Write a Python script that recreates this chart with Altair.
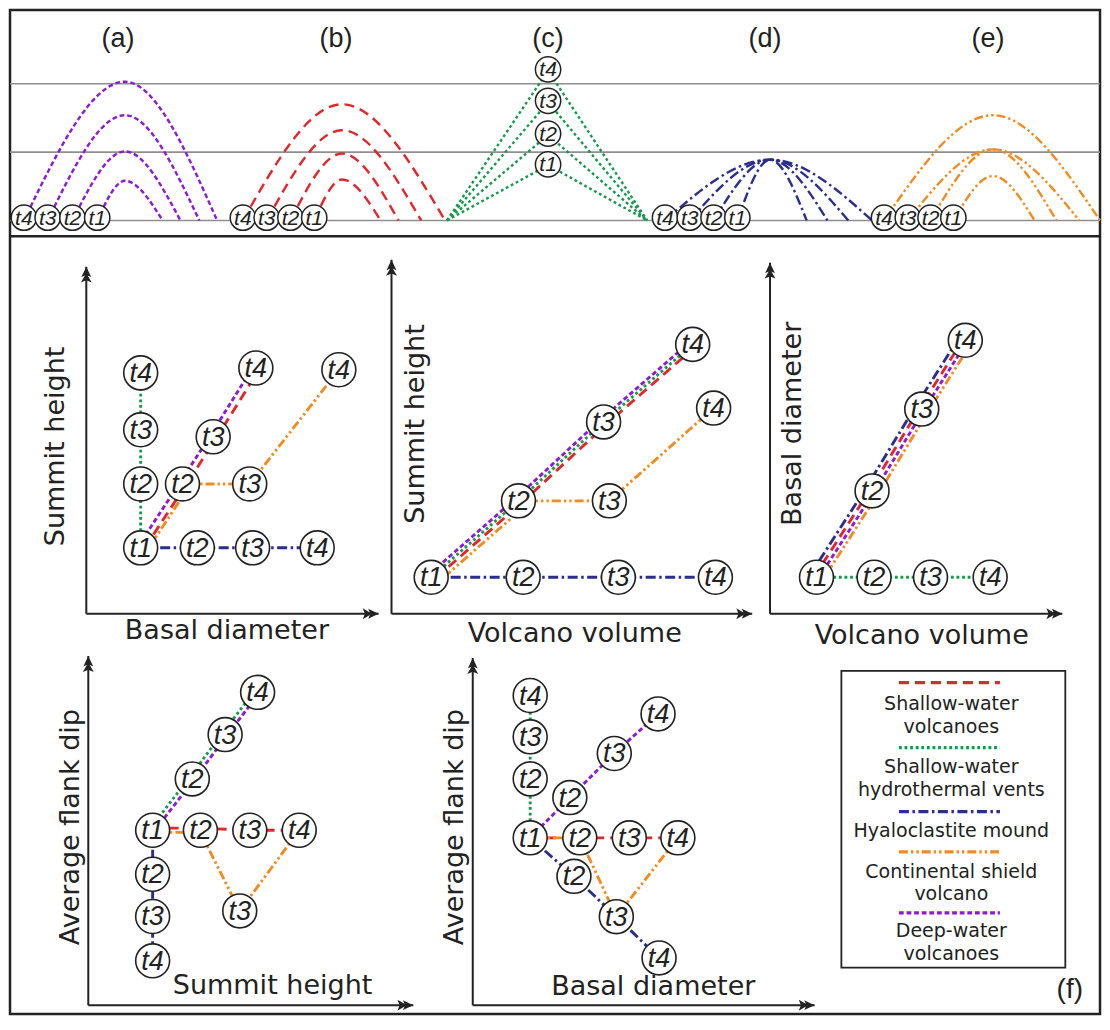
import altair as alt
import pandas as pd

# ============================ DATA ============================
SERIES_KEYS = ["sw", "hv", "hm", "cs", "dw"]
SERIES_NAMES = ["Shallow-water volcanoes", "Shallow-water hydrothermal vents",
                "Hyaloclastite mound", "Continental shield volcano", "Deep-water volcanoes"]

STAGES = ["t4", "t3", "t2", "t1"]

# --- top strip (a)-(e): horizontal distance units, height in levels of the grey guide lines
TOP_LABELS = ["(a)", "(b)", "(c)", "(d)", "(e)"]
TOP_LABEL_X = [11.7, 33.7, 55.1, 77.0, 99.5]
TOP_KEYS = ["dw", "sw", "hv", "hm", "cs"]
TOP_FOOT_L = [[2.2, 4.6, 7.1, 9.6], [24.3, 26.7, 29.1, 31.5], [44.9, 44.9, 44.9, 44.9],
              [66.9, 69.4, 71.8, 74.2], [89.0, 91.4, 93.7, 96.0]]
TOP_APEX_X = [12.4, 34.3, 55.1, 77.5, 100.0]
TOP_APEX_H = [[2.03, 1.54, 1.01, 0.58], [1.70, 1.32, 0.98, 0.60], [2.19, 1.73, 1.25, 0.81],
              [0.89, 0.89, 0.89, 0.89], [1.54, 1.04, 1.04, 0.65]]
TOP_FOOT_R = [[21.7, 19.9, 18.0, 16.2], [44.7, 42.3, 40.0, 38.2], [65.1, 65.1, 65.1, 65.1],
              [87.8, 85.4, 83.3, 81.2], [110.8, 108.7, 106.4, 104.2]]
TOP_CIRCLE_X = [[2.2, 4.6, 7.1, 9.6], [24.3, 26.7, 29.1, 31.5], [55.1, 55.1, 55.1, 55.1],
                [66.9, 69.4, 71.8, 74.2], [89.0, 91.4, 93.7, 96.0]]
TOP_CIRCLE_H = [[0.04] * 4, [0.04] * 4, [2.21, 1.75, 1.27, 0.82], [0.04] * 4, [0.04] * 4]
TOP_LEVELS = [0, 1, 2]
TOP_LABEL_H = 2.66
TOP_DIVIDER_H = -0.23

# --- panel 1: Summit height vs Basal diameter
P1_CIRC_LABEL = ["t1", "t2", "t3", "t4", "t2", "t3", "t4", "t2", "t3", "t4", "t3", "t4"]
P1_CIRC_X = [1.86, 1.86, 1.86, 1.86, 3.80, 5.69, 7.90, 3.29, 4.34, 5.80, 5.59, 8.64]
P1_CIRC_Y = [1.90, 3.74, 5.30, 6.94, 1.90, 1.90, 1.90, 3.74, 5.10, 7.08, 3.74, 7.03]
P1_LINE_KEY = ["hv", "hm", "sw", "dw", "cs"]
P1_LINE_X = [[1.86, 1.86, 1.86, 1.86], [1.86, 3.80, 5.69, 7.90], [2.00, 3.43, 4.48, 5.94],
             [1.74, 3.17, 4.22, 5.68], [2.14, 3.57, 5.59, 8.64]]
P1_LINE_Y = [[1.90, 3.74, 5.30, 6.94], [1.90, 1.90, 1.90, 1.90], [1.90, 3.74, 5.10, 7.08],
             [1.90, 3.74, 5.10, 7.08], [1.90, 3.74, 3.74, 7.03]]
P1_TITLE = ["Summit height", "Basal diameter"]
P1_TITLE_X = [-1.02, 4.81]
P1_TITLE_Y = [4.82, -0.51]

# --- panel 2: Summit height vs Volcano volume
P2_CIRC_LABEL = ["t1", "t2", "t3", "t4", "t2", "t3", "t4", "t3", "t4"]
P2_CIRC_X = [1.10, 3.65, 6.29, 8.98, 3.52, 5.88, 8.35, 6.04, 8.93]
P2_CIRC_Y = [1.03, 1.03, 1.03, 1.03, 3.19, 5.42, 7.61, 3.19, 5.81]
P2_LINE_KEY = ["hm", "sw", "hv", "dw", "cs"]
P2_LINE_X = [[1.10, 3.65, 6.29, 8.98], [1.25, 3.67, 6.03, 8.50], [1.10, 3.52, 5.88, 8.35],
             [0.95, 3.37, 5.73, 8.20], [1.45, 3.87, 6.04, 8.93]]
P2_LINE_Y = [[1.03, 1.03, 1.03, 1.03], [1.03, 3.19, 5.42, 7.61], [1.03, 3.19, 5.42, 7.61],
             [1.03, 3.19, 5.42, 7.61], [1.03, 3.19, 3.19, 5.81]]
P2_TITLE = ["Summit height", "Volcano volume"]
P2_TITLE_X = [0.69, 5.08]
P2_TITLE_Y = [5.36, -0.56]

# --- panel 3: Basal diameter vs Volcano volume
P3_CIRC_LABEL = ["t1", "t2", "t3", "t4", "t2", "t3", "t4"]
P3_CIRC_X = [1.59, 3.56, 5.49, 7.53, 3.49, 5.19, 6.68]
P3_CIRC_Y = [1.04, 1.04, 1.04, 1.04, 3.50, 5.83, 7.79]
P3_LINE_KEY = ["hv", "hm", "sw", "dw", "cs"]
P3_LINE_X = [[1.59, 3.56, 5.49, 7.53], [1.32, 3.22, 4.92, 6.41], [1.50, 3.40, 5.10, 6.59],
             [1.68, 3.58, 5.28, 6.77], [1.86, 3.76, 5.46, 6.95]]
P3_LINE_Y = [[1.04, 1.04, 1.04, 1.04], [1.04, 3.50, 5.83, 7.79], [1.04, 3.50, 5.83, 7.79],
             [1.04, 3.50, 5.83, 7.79], [1.04, 3.50, 5.83, 7.79]]
P3_TITLE = ["Basal diameter", "Volcano volume"]
P3_TITLE_X = [0.78, 5.19]
P3_TITLE_Y = [5.41, -0.64]

# --- panel 4: Average flank dip vs Summit height
P4_CIRC_LABEL = ["t1", "t2", "t3", "t4", "t2", "t3", "t4", "t2", "t3", "t4", "t3"]
P4_CIRC_X = [1.98, 3.20, 4.21, 5.21, 3.45, 4.97, 6.49, 1.98, 1.98, 1.98, 4.66]
P4_CIRC_Y = [5.01, 6.48, 7.75, 8.96, 5.01, 5.01, 5.01, 3.75, 2.54, 1.27, 2.70]
P4_LINE_KEY = ["hv", "dw", "hm", "sw", "cs"]
P4_LINE_X = [[1.86, 3.08, 4.09, 5.09], [2.05, 3.27, 4.28, 5.28], [1.98, 1.98, 1.98, 1.98],
             [1.98, 3.45, 4.97, 6.49], [1.98, 3.45, 4.66, 6.49]]
P4_LINE_Y = [[5.01, 6.48, 7.75, 8.96], [5.01, 6.48, 7.75, 8.96], [5.01, 3.75, 2.54, 1.27],
             [5.07, 5.07, 5.01, 5.01], [4.95, 4.95, 2.70, 5.01]]
P4_TITLE = ["Average flank dip", "Summit height"]
P4_TITLE_X = [-0.52, 5.67]
P4_TITLE_Y = [5.10, 0.56]

# --- panel 5: Average flank dip vs Basal diameter
P5_CIRC_LABEL = ["t1", "t2", "t3", "t4", "t2", "t3", "t4", "t2", "t3", "t4", "t2", "t3", "t4"]
P5_CIRC_X = [1.68, 1.68, 1.68, 1.68, 2.84, 4.14, 5.42, 3.13, 4.58, 6.00, 2.96, 4.20, 5.45]
P5_CIRC_Y = [4.82, 6.52, 7.73, 8.92, 5.98, 7.25, 8.39, 4.82, 4.82, 4.82, 3.71, 2.55, 1.36]
P5_LINE_KEY = ["hv", "dw", "hm", "sw", "cs"]
P5_LINE_X = [[1.68, 1.68, 1.68, 1.68], [1.68, 2.84, 4.14, 5.42], [1.68, 2.96, 4.20, 5.45],
             [1.68, 3.13, 4.58, 6.00], [1.68, 3.13, 4.20, 6.00]]
P5_LINE_Y = [[4.82, 6.52, 7.73, 8.92], [4.82, 5.98, 7.25, 8.39], [4.82, 3.71, 2.55, 1.36],
             [4.82, 4.82, 4.82, 4.82], [4.82, 4.82, 2.55, 4.82]]
P5_TITLE = ["Average flank dip", "Basal diameter"]
P5_TITLE_X = [-0.52, 5.28]
P5_TITLE_Y = [5.13, 0.51]

# --- legend (f): rows counted from the top of the box
LEG_LINE_ROW = [0.0, 3.15, 6.25, 8.2, 11.15]
LEG_TEXT = [["Shallow-water", "volcanoes"], ["Shallow-water", "hydrothermal vents"],
            ["Hyaloclastite mound"], ["Continental shield", "volcano"], ["Deep-water", "volcanoes"]]
LEG_TEXT_ROW = [[1.05, 2.15], [4.1, 5.2], [7.2], [9.15, 10.25], [12.05, 13.15]]
LEG_LINE_X = [2.57, 7.08]
LEG_TEXT_X = 4.91
LEG_BOX = [0, 10, -0.57, 13.8]
PANEL_F_LABEL = "(f)"
PANEL_F_POS = [10.2, 14.9]

# ============================ STYLE / LAYOUT ============================
W, H, PAD = 1090, 1004, 2
INK = "#222222"
SERIES_COLORS = ["#e3262b", "#16994b", "#2a2e8e", "#f28b20", "#8c1ad6"]
SERIES_DASHES = [[10, 6], [2.8, 2.8], [10, 3.5, 2.5, 3.5], [9, 3, 2.4, 3, 2.4, 3], [4.8, 2.8]]
SANS = "DejaVu Sans"
ITAL = "Liberation Sans"
ARROW = "M0,0 L0.45,0.95 L0.12,0.8 L0.5,1.45 L0,1.25 L-0.5,1.45 L-0.12,0.8 L-0.45,0.95 Z"


def X(px):
    return (px - 8) * W / 1100


def Y(py):
    return (py - 6) * H / 1021


PANEL_FRAMES = [(85, 380, 620, 267), (393, 757, 620, 260), (775, 1070, 620, 263),
                (87, 415, 1018, 663), (475, 820, 1018, 665)]

color_scale = alt.Scale(domain=SERIES_KEYS, range=SERIES_COLORS)
dash_scale = alt.Scale(domain=SERIES_KEYS, range=SERIES_DASHES)
COLOR = alt.Color("key:N", scale=color_scale, legend=None)
DASH = alt.StrokeDash("key:N", scale=dash_scale, legend=None)


def lin(dom, rng):
    return alt.Scale(domain=dom, range=rng, nice=False, zero=False)


# ---------------- top strip ----------------
xs_t = lin([0.8, 110.8], [0, W])
ys_t = lin([0, 2], [Y(220), Y(81)])

arc_rows = []
circ_rows = []
for p, key in enumerate(TOP_KEYS):
    for j, st in enumerate(STAGES):
        pts = [(TOP_FOOT_L[p][j], 0.0), (TOP_APEX_X[p], TOP_APEX_H[p][j]), (TOP_FOOT_R[p][j], 0.0)]
        for i, (x, h) in enumerate(pts):
            arc_rows.append(dict(arc=f"{p}-{st}", i=i, x=x, h=h, key=key, straight=(key == "hv")))
        circ_rows.append(dict(x=TOP_CIRCLE_X[p][j], h=TOP_CIRCLE_H[p][j], label=st))
arcs = pd.DataFrame(arc_rows)
tcirc = pd.DataFrame(circ_rows)

tx = alt.X("x:Q", scale=xs_t, axis=None)
ty = alt.Y("h:Q", scale=ys_t, axis=None)

top_layers = [
    alt.Chart(pd.DataFrame({"h": TOP_LEVELS})).mark_rule(color="#8f8f8f", strokeWidth=1.6)
    .encode(y=ty),
    alt.Chart(pd.DataFrame({"h": [TOP_DIVIDER_H]})).mark_rule(color=INK, strokeWidth=2.5)
    .encode(y=ty),
    alt.Chart(arcs[~arcs.straight]).mark_line(interpolate="monotone", strokeWidth=2.4)
    .encode(x=tx, y=ty, detail="arc:N", order="i:Q", color=COLOR, strokeDash=DASH),
    alt.Chart(arcs[arcs.straight]).mark_line(interpolate="linear", strokeWidth=2.4)
    .encode(x=tx, y=ty, detail="arc:N", order="i:Q", color=COLOR, strokeDash=DASH),
    alt.Chart(tcirc).mark_point(shape="circle", fill="white", stroke=INK, strokeWidth=1.5,
                                size=640, opacity=1, fillOpacity=1)
    .encode(x=tx, y=ty),
    alt.Chart(tcirc).mark_text(font=ITAL, fontStyle="italic", fontSize=21, color=INK,
                               align="center", baseline="middle", dy=1)
    .encode(x=tx, y=ty, text="label:N"),
    alt.Chart(pd.DataFrame({"x": TOP_LABEL_X, "h": [TOP_LABEL_H] * 5, "t": TOP_LABELS}))
    .mark_text(font=ITAL, fontSize=27, color=INK, align="center", baseline="middle")
    .encode(x=tx, y=ty, text="t:N"),
]
top = alt.layer(*top_layers)

# ---------------- lower panels ----------------
PANELS = [
    (P1_CIRC_LABEL, P1_CIRC_X, P1_CIRC_Y, P1_LINE_KEY, P1_LINE_X, P1_LINE_Y, P1_TITLE, P1_TITLE_X, P1_TITLE_Y),
    (P2_CIRC_LABEL, P2_CIRC_X, P2_CIRC_Y, P2_LINE_KEY, P2_LINE_X, P2_LINE_Y, P2_TITLE, P2_TITLE_X, P2_TITLE_Y),
    (P3_CIRC_LABEL, P3_CIRC_X, P3_CIRC_Y, P3_LINE_KEY, P3_LINE_X, P3_LINE_Y, P3_TITLE, P3_TITLE_X, P3_TITLE_Y),
    (P4_CIRC_LABEL, P4_CIRC_X, P4_CIRC_Y, P4_LINE_KEY, P4_LINE_X, P4_LINE_Y, P4_TITLE, P4_TITLE_X, P4_TITLE_Y),
    (P5_CIRC_LABEL, P5_CIRC_X, P5_CIRC_Y, P5_LINE_KEY, P5_LINE_X, P5_LINE_Y, P5_TITLE, P5_TITLE_X, P5_TITLE_Y),
]


def build_panel(k):
    lab, cx, cy, lkeys, lx, ly, tt, ttx, tty = PANELS[k]
    x0, x1, yb, yt = PANEL_FRAMES[k]
    xs = lin([0, 10], [X(x0), X(x1)])
    ys = lin([0, 10], [Y(yb), Y(yt)])
    ex = alt.X("x:Q", scale=xs, axis=None)
    ey = alt.Y("y:Q", scale=ys, axis=None)

    rows = []
    for key, xl, yl in zip(lkeys, lx, ly):
        for i, (a, b) in enumerate(zip(xl, yl)):
            rows.append(dict(key=key, i=i, x=a, y=b))
    lines = pd.DataFrame(rows)
    circ = pd.DataFrame({"x": cx, "y": cy, "label": lab})
    axes = pd.DataFrame({"x": [0, 0], "y": [0, 0], "x2": [10, 0], "y2": [0, 10]})
    tips = pd.DataFrame({"x": [10, 0], "y": [0, 10], "a": [90, 0]})
    titles = pd.DataFrame({"x": ttx, "y": tty, "t": tt, "a": [270, 0]})

    return alt.layer(
        alt.Chart(axes).mark_rule(color=INK, strokeWidth=2)
        .encode(x=ex, y=ey, x2="x2:Q", y2="y2:Q"),
        alt.Chart(tips).mark_point(shape=ARROW, filled=True, color=INK, size=480, opacity=1)
        .encode(x=ex, y=ey, angle=alt.Angle("a:Q", scale=None)),
        alt.Chart(lines).mark_line(strokeWidth=2.9)
        .encode(x=ex, y=ey, order="i:Q", detail="key:N", color=COLOR, strokeDash=DASH),
        alt.Chart(circ).mark_point(shape="circle", fill="white", stroke=INK, strokeWidth=1.6,
                                   size=1150, opacity=1, fillOpacity=1)
        .encode(x=ex, y=ey),
        alt.Chart(circ).mark_text(font=ITAL, fontStyle="italic", fontSize=27, color=INK,
                                  align="center", baseline="middle", dy=1)
        .encode(x=ex, y=ey, text="label:N"),
        alt.Chart(titles).mark_text(font=SANS, fontSize=27, color=INK, align="center",
                                    baseline="middle")
        .encode(x=ex, y=ey, text="t:N", angle=alt.Angle("a:Q", scale=None)),
    )


panels = [build_panel(k) for k in range(5)]

# ---------------- legend ----------------
xs_l = lin([0, 10], [X(847), X(1073)])
ys_l = lin([0, 13], [Y(690), Y(963)])
lx_ = alt.X("x:Q", scale=xs_l, axis=None)
ly_ = alt.Y("y:Q", scale=ys_l, axis=None)

leg_lines = pd.DataFrame({"key": SERIES_KEYS, "x": [LEG_LINE_X[0]] * 5, "x2": [LEG_LINE_X[1]] * 5,
                          "y": LEG_LINE_ROW})
trows = []
for rows_, texts in zip(LEG_TEXT_ROW, LEG_TEXT):
    for r, t in zip(rows_, texts):
        trows.append(dict(x=LEG_TEXT_X, y=r, t=t))
leg_text = pd.DataFrame(trows)

legend = alt.layer(
    alt.Chart(pd.DataFrame({"x": [LEG_BOX[0]], "x2": [LEG_BOX[1]], "y": [LEG_BOX[2]], "y2": [LEG_BOX[3]]}))
    .mark_rect(fill="white", fillOpacity=0, stroke=INK, strokeWidth=1.8)
    .encode(x=lx_, y=ly_, x2="x2:Q", y2="y2:Q"),
    alt.Chart(leg_lines).mark_rule(strokeWidth=3.2)
    .encode(x=lx_, y=ly_, x2="x2:Q", color=COLOR, strokeDash=DASH),
    alt.Chart(leg_text).mark_text(font=SANS, fontSize=19, color=INK, align="center", baseline="middle")
    .encode(x=lx_, y=ly_, text="t:N"),
    alt.Chart(pd.DataFrame({"x": [PANEL_F_POS[0]], "y": [PANEL_F_POS[1]], "t": [PANEL_F_LABEL]}))
    .mark_text(font=ITAL, fontSize=28, color=INK, align="center", baseline="middle")
    .encode(x=lx_, y=ly_, text="t:N"),
)

chart = (
    alt.layer(top, *panels, legend)
    .resolve_scale(x="independent", y="independent")
    .properties(width=W, height=H, padding=PAD, autosize=alt.AutoSizeParams(type="none"),
                background="white")
    .configure_view(stroke=INK, strokeWidth=2.5)
)

chart.save("out.html", embed_options={"renderer": "svg", "actions": False})
